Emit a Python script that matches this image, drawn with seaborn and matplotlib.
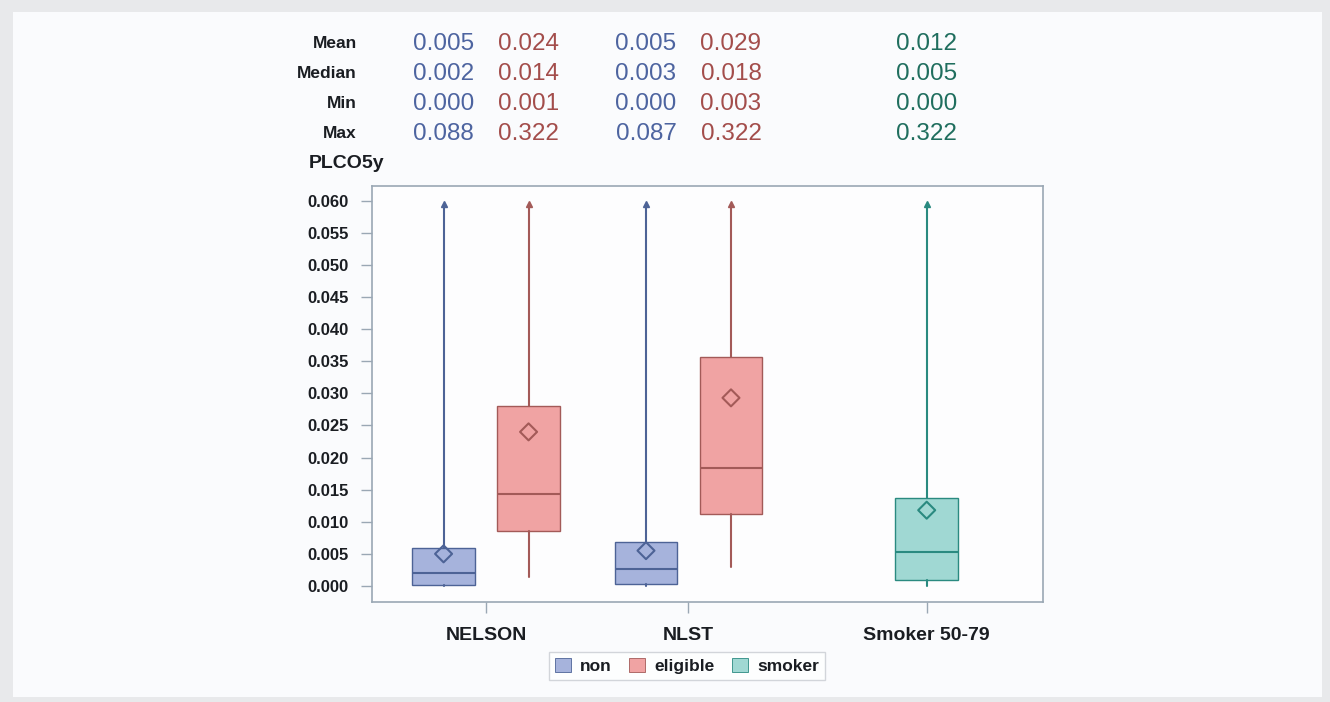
import numpy as np
import pandas as pd
import seaborn as sns
import matplotlib.pyplot as plt
from matplotlib.patches import Rectangle, Patch

### Data
studies = ["NELSON", "NLST", "Smoker 50-79"]
groups = ["non", "eligible", "non", "eligible", "smoker"]
group_study = [0, 0, 1, 1, 2]

# table above the plot
stat_mean = ["0.005", "0.024", "0.005", "0.029", "0.012"]
stat_median = ["0.002", "0.014", "0.003", "0.018", "0.005"]
stat_min = ["0.000", "0.001", "0.000", "0.003", "0.000"]
stat_max = ["0.088", "0.322", "0.087", "0.322", "0.322"]

# box statistics (estimated from the boxes)
q1 = [0.0002, 0.0085, 0.0003, 0.0112, 0.0010]
med = [0.0020, 0.0144, 0.0027, 0.0184, 0.0053]
q3 = [0.0059, 0.0281, 0.0069, 0.0356, 0.0137]
mean = [0.0050, 0.0240, 0.0055, 0.0293, 0.0118]
wlo = [0.0000, 0.0014, 0.0000, 0.0030, 0.0000]
whi = [0.088, 0.322, 0.087, 0.322, 0.322]

yticks = np.arange(0, 0.0601, 0.005)

### Style
sns.set_theme(style="ticks")
plt.rcParams['font.family'] = ['Liberation Sans', 'DejaVu Sans']

fill = {"non": "#a6b3dc", "eligible": "#f0a3a3", "smoker": "#a0d8d3"}
edge = {"non": "#4d6396", "eligible": "#a35a58", "smoker": "#2a8a80"}
txt = {"non": "#4d64a0", "eligible": "#a34d4b", "smoker": "#1f6e5e"}
dark = "#1a1d22"

centers = [0.0, 0.905, 1.97]
offs = {"non": -0.19, "eligible": 0.19, "smoker": 0.0}
xpos = [centers[s] + offs[g] for s, g in zip(group_study, groups)]
clip_top = 0.0592

fig = plt.figure(figsize=(13.3, 7.02), dpi=100, facecolor="#e8e9eb")
fig.patches.append(Rectangle((13/1330, 5/702), 1309/1330, 685/702, transform=fig.transFigure,
                             facecolor="#fafbfd", edgecolor="none", zorder=-10))
ax = fig.add_axes([372/1330, 1-602/702, 671/1330, 416/702])
ax.set_facecolor("#fdfdfe")

## Boxes
for i, g in enumerate(groups):
    st = dict(q1=q1[i], med=med[i], q3=q3[i], whislo=wlo[i], whishi=min(whi[i], clip_top), fliers=[])
    c = edge[g]
    ax.bxp([st], positions=[xpos[i]], widths=0.28, showfliers=False, showcaps=False,
           patch_artist=True, manage_ticks=False,
           boxprops=dict(facecolor=fill[g], edgecolor=c, linewidth=1),
           medianprops=dict(color=c, linewidth=1.5),
           whiskerprops=dict(color=c, linewidth=1.5))
    ax.scatter(xpos[i], mean[i], marker="D", s=75, facecolors="none", edgecolors=c,
               linewidths=1.5, zorder=5)
    if whi[i] > clip_top:
        ax.plot(xpos[i], clip_top + 0.0003, marker="^", ms=5, color=c, zorder=5)

ax.set_xlim(-0.51, 2.49)
ax.set_ylim(-0.0025, 0.0623)
ax.set_yticks(yticks)
ax.set_yticklabels([f"{v:.3f}" for v in yticks], fontweight="bold", fontsize=12)
ax.set_xticks(centers)
ax.set_xticklabels(studies, fontweight="bold", fontsize=14)
ax.tick_params(axis="both", colors=dark, length=8, width=1)
ax.tick_params(axis="y", pad=9)
ax.tick_params(axis="x", pad=10)
ax.tick_params(axis="both", color="#9aa7b4")
for sp in ax.spines.values():
    sp.set_color("#9aa7b4")
    sp.set_linewidth(1.2)
    sp.set_visible(True)

## Stats table above the plot
rows = [("Mean", stat_mean), ("Median", stat_median), ("Min", stat_min), ("Max", stat_max)]
for r, (lab, vals) in enumerate(rows):
    yf = 1 - (44 + 30*r)/702
    fig.text(357/1330, yf, lab, ha="right", va="center", fontsize=12.5, fontweight="bold", color=dark)
    for i, g in enumerate(groups):
        xd = ax.transData.transform((xpos[i], 0))[0] / fig.bbox.width
        fig.text(xd, yf, vals[i], ha="center", va="center", fontsize=17.5, color=txt[g])
fig.text(309/1330, 1-163/702, "PLCO5y", ha="left", va="center", fontsize=14,
         fontweight="bold", color=dark)

## Legend
handles = [Patch(facecolor=fill[k], edgecolor=edge[k], linewidth=0.6, label=k)
           for k in ["non", "eligible", "smoker"]]
leg = fig.legend(handles=handles, ncol=3, loc="center", bbox_to_anchor=(687/1330, 1-666/702),
                 prop=dict(size=12.5, weight="bold"), frameon=True, fancybox=False,
                 handlelength=0.9, handleheight=0.9, handletextpad=0.55, columnspacing=1.0,
                 borderpad=0.35)
leg.get_frame().set_edgecolor("#c8ccd2")
leg.get_frame().set_linewidth(1)
for t in leg.get_texts():
    t.set_color(dark)

fig.savefig("out.png", dpi=100, facecolor=fig.get_facecolor())
